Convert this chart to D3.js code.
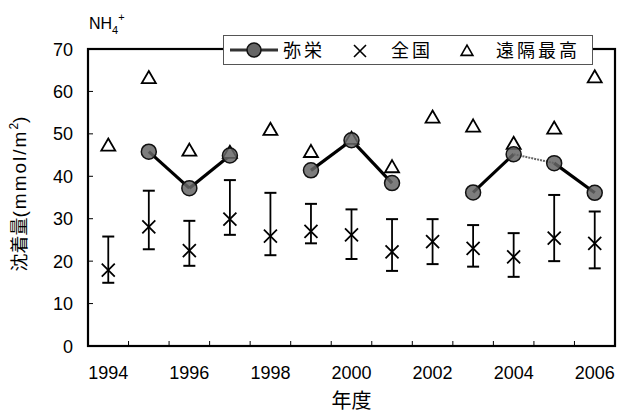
<!DOCTYPE html>
<html>
<head>
<meta charset="utf-8">
<script src="https://cdn.jsdelivr.net/npm/d3@7"></script>
<style>
  body { margin: 0; background: #fff; }
  svg { display: block; }
</style>
</head>
<body>
<div id="chart"></div>
<script>
// data
const years = [1994, 1995, 1996, 1997, 1998, 1999, 2000, 2001, 2002, 2003, 2004, 2005, 2006]
const yasaka = [null, 45.8, 37.2, 44.9, null, 41.4, 48.5, 38.4, null, 36.2, 45.2, 43.1, 36.1]
const zenkoku = [17.9, 28.1, 22.5, 29.9, 25.9, 27.0, 26.2, 22.2, 24.6, 23.0, 21.0, 25.4, 24.2]
const zenkokuHigh = [25.8, 36.6, 29.5, 39.1, 36.1, 33.5, 32.2, 29.9, 29.9, 28.5, 26.6, 35.6, 31.7]
const zenkokuLow = [14.9, 22.8, 18.9, 26.2, 21.4, 24.2, 20.5, 17.7, 19.3, 18.7, 16.3, 20.0, 18.3]
const enkaku = [47.0, 62.9, 45.8, 45.3, 50.7, 45.5, 48.6, 41.9, 53.6, 51.5, 47.4, 51.0, 63.1]
const yTicks = [0, 10, 20, 30, 40, 50, 60, 70]
const xLabelYears = [1994, 1996, 1998, 2000, 2002, 2004, 2006]

const width = 626
const height = 413
const margin = {top: 49, right: 11, bottom: 67, left: 88}

const svg = d3.create('svg')
  .attr('width', width)
  .attr('height', height)
  .attr('font-family', '"Liberation Sans", Arial, sans-serif')

document.getElementById('chart').appendChild(svg.node())

const x = d3.scaleBand()
  .domain(years)
  .range([margin.left, width - margin.right])
  .padding(0)

const y = d3.scaleLinear()
  .domain([0, 70])
  .range([height - margin.bottom, margin.top])

const cx = yr => x(yr) + x.bandwidth() / 2

// ticks (inward)
svg.append('g')
  .selectAll('line')
  .data(yTicks)
  .join('line')
    .attr('x1', margin.left)
    .attr('x2', margin.left + 5)
    .attr('y1', d => y(d))
    .attr('y2', d => y(d))
    .attr('stroke', '#000')
    .attr('stroke-width', 1)

svg.append('g')
  .selectAll('line')
  .data(years.slice(1))
  .join('line')
    .attr('x1', d => x(d))
    .attr('x2', d => x(d))
    .attr('y1', y(0))
    .attr('y2', y(0) - 5)
    .attr('stroke', '#000')
    .attr('stroke-width', 1)

// tick labels
svg.append('g')
  .attr('font-size', 18)
  .attr('text-anchor', 'end')
  .selectAll('text')
  .data(yTicks)
  .join('text')
    .attr('x', 73)
    .attr('y', d => y(d) + 6.5)
    .text(d => d)

svg.append('g')
  .attr('font-size', 18)
  .attr('text-anchor', 'middle')
  .selectAll('text')
  .data(xLabelYears)
  .join('text')
    .attr('x', d => cx(d))
    .attr('y', 379)
    .text(d => d)

// frame
svg.append('rect')
  .attr('x', margin.left)
  .attr('y', margin.top)
  .attr('width', width - margin.left - margin.right)
  .attr('height', height - margin.top - margin.bottom)
  .attr('fill', 'none')
  .attr('stroke', '#000')
  .attr('stroke-width', 2.2)

// error bars for 全国
const eb = svg.append('g')
  .attr('stroke', '#000')
  .attr('stroke-width', 1.8)
years.forEach((yr, i) => {
  const px = cx(yr)
  eb.append('line')
    .attr('x1', px).attr('x2', px)
    .attr('y1', y(zenkokuHigh[i])).attr('y2', y(zenkokuLow[i]))
  eb.append('line')
    .attr('x1', px - 6).attr('x2', px + 6)
    .attr('y1', y(zenkokuHigh[i])).attr('y2', y(zenkokuHigh[i]))
    .attr('stroke-width', 2)
  eb.append('line')
    .attr('x1', px - 6).attr('x2', px + 6)
    .attr('y1', y(zenkokuLow[i])).attr('y2', y(zenkokuLow[i]))
    .attr('stroke-width', 2)
})

// crosses
const crossPath = (px, py, s) =>
  `M${px - s},${py - s}L${px + s},${py + s}M${px - s},${py + s}L${px + s},${py - s}`

svg.append('g')
  .selectAll('path')
  .data(years)
  .join('path')
    .attr('d', (d, i) => crossPath(cx(d), y(zenkoku[i]), 6.5))
    .attr('stroke', '#000')
    .attr('stroke-width', 1.8)
    .attr('fill', 'none')

// 弥栄 line segments
const segs = svg.append('g')
for (let i = 0; i < years.length - 1; i++) {
  if (yasaka[i] == null || yasaka[i + 1] == null) continue
  const thin = years[i] === 2004
  segs.append('line')
    .attr('x1', cx(years[i])).attr('y1', y(yasaka[i]))
    .attr('x2', cx(years[i + 1])).attr('y2', y(yasaka[i + 1]))
    .attr('stroke', thin ? '#666' : '#000')
    .attr('stroke-width', thin ? 2 : 3.2)
    .attr('stroke-dasharray', thin ? '2,1' : null)
}

// triangles for 遠隔最高
const tri = d3.symbol().type(d3.symbolTriangle).size(85)
svg.append('g')
  .selectAll('path')
  .data(years)
  .join('path')
    .attr('transform', (d, i) => `translate(${cx(d)},${y(enkaku[i])})`)
    .attr('d', tri)
    .attr('fill', '#fff')
    .attr('stroke', '#000')
    .attr('stroke-width', 1.8)

// circles for 弥栄
svg.append('g')
  .selectAll('circle')
  .data(years.map((d, i) => ({year: d, v: yasaka[i]})).filter(d => d.v != null))
  .join('circle')
    .attr('cx', d => cx(d.year))
    .attr('cy', d => y(d.v))
    .attr('r', 7.5)
    .attr('fill', '#666')
    .attr('fill-opacity', 0.85)
    .attr('stroke', '#111')
    .attr('stroke-width', 1.5)

// legend
const lg = svg.append('g')
lg.append('rect')
  .attr('x', 223.5).attr('y', 35.5)
  .attr('width', 369).attr('height', 29)
  .attr('fill', '#fff')
  .attr('stroke', '#555')
  .attr('stroke-width', 1)
lg.append('line')
  .attr('x1', 230).attr('x2', 278)
  .attr('y1', 50).attr('y2', 50)
  .attr('stroke', '#333').attr('stroke-width', 3)
lg.append('circle')
  .attr('cx', 254).attr('cy', 50).attr('r', 7)
  .attr('fill', '#666').attr('stroke', '#111').attr('stroke-width', 1.5)
lg.append('path')
  .attr('d', crossPath(360, 51, 6))
  .attr('stroke', '#000').attr('stroke-width', 1.6)
lg.append('path')
  .attr('transform', 'translate(467,52)')
  .attr('d', d3.symbol().type(d3.symbolTriangle).size(60))
  .attr('fill', '#fff').attr('stroke', '#000').attr('stroke-width', 1.6)
const lgText = [['弥栄', 283], ['全国', 391], ['遠隔最高', 496]]
lg.selectAll('text')
  .data(lgText)
  .join('text')
    .attr('x', d => d[1])
    .attr('y', 57)
    .attr('font-size', 18)
    .attr('letter-spacing', 3)
    .attr('font-family', '"Noto Sans CJK JP", sans-serif')
    .text(d => d[0])

// NH4+
const nh = svg.append('text')
  .attr('x', 89).attr('y', 29)
  .attr('font-size', 16)
nh.append('tspan').text('NH')
nh.append('tspan').attr('font-size', 11).attr('dy', 5).text('4')
nh.append('tspan').attr('font-size', 11).attr('dy', -13).text('+')

// axis titles
const yt = svg.append('text')
  .attr('transform', 'translate(26,194) rotate(-90)')
  .attr('text-anchor', 'middle')
  .attr('font-size', 19)
yt.append('tspan').attr('font-family', '"Noto Sans CJK JP", sans-serif').attr('font-size', 18).text('沈着量')
yt.append('tspan').attr('letter-spacing', 2).text('(mmol/m')
yt.append('tspan').attr('font-size', 12).attr('dy', -8).text('2')
yt.append('tspan').attr('dy', 8).text(')')

svg.append('text')
  .attr('x', (margin.left + width - margin.right) / 2)
  .attr('y', 408)
  .attr('text-anchor', 'middle')
  .attr('font-size', 20)
  .attr('font-family', '"Noto Sans CJK JP", sans-serif')
  .text('年度')
</script>
</body>
</html>
